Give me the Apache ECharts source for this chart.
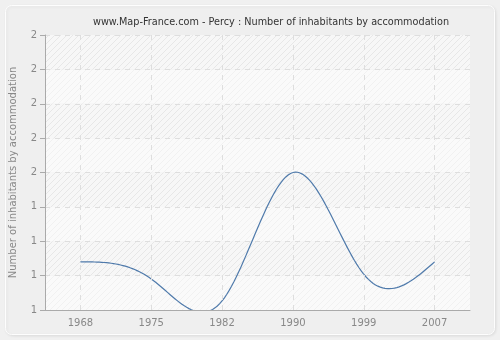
<!DOCTYPE html>
<html><head><meta charset="utf-8">
<script src="https://cdn.jsdelivr.net/npm/echarts@6/dist/echarts.min.js"></script>
<style>html,body{margin:0;padding:0;background:#f0f0f0;}#c{width:500px;height:340px;}</style>
</head><body><div id="c"></div>
<script>
var years = ['1968','1975','1982','1990','1999','2007'];
var values = [1.175, 1.113, 1.033, 1.5, 1.13, 1.175];
var titleText = 'www.Map-France.com - Percy : Number of inhabitants by accommodation';
var yName = 'Number of inhabitants by accommodation';

function hatch(bg, line){
  var c = document.createElement('canvas'); c.width = 6; c.height = 6;
  var x = c.getContext('2d');
  x.fillStyle = bg; x.fillRect(0,0,6,6);
  x.strokeStyle = line; x.lineWidth = 1;
  x.beginPath(); x.moveTo(0,6); x.lineTo(6,0); x.moveTo(-3,3); x.lineTo(3,-3); x.moveTo(3,9); x.lineTo(9,3); x.stroke();
  return c;
}
// natural cubic spline second derivatives for pixel points (x equally spaced)
function splineM(ys){
  var n = ys.length, M = new Array(n).fill(0);
  if (n < 3) return M;
  var c = [], d = [];
  for (var i = 1; i < n-1; i++){
    var r = 6*(ys[i+1]-2*ys[i]+ys[i-1]);
    var denom = 4 - (i > 1 ? c[i-1] : 0);
    c[i] = 1/denom;
    d[i] = (r - (i > 1 ? d[i-1] : 0))/denom;
  }
  for (var j = n-2; j >= 1; j--){ M[j] = d[j] - c[j]*(j < n-2 ? M[j+1] : 0); }
  return M;
}
var chart = echarts.init(document.getElementById('c'));
chart.setOption({
  backgroundColor: '#f0f0f0',
  animation: false,
  graphic: [{type:'rect', shape:{x:5.5,y:5.5,width:489,height:329,r:6}, style:{fill:'#efefef', stroke:'#fdfdfd', lineWidth:1, shadowColor:'rgba(0,0,0,0.08)', shadowBlur:3, shadowOffsetX:1, shadowOffsetY:1}, z:-10}],
  title: {text: titleText, left: 88, top: 12, textStyle:{fontFamily:'DejaVu Sans', fontSize:9.7, fontWeight:'normal', color:'#333'}},
  grid: {left: 40, right: 30, top: 35, bottom: 30},
  xAxis: {type:'category', data: years, boundaryGap: true,
    axisLine:{lineStyle:{color:'#aaa'}},
    axisTick:{alignWithLabel:true, length:5, lineStyle:{color:'#aaa'}},
    axisLabel:{color:'#888', fontFamily:'DejaVu Sans', fontSize:10, margin:8},
    splitLine:{show:false}},
  yAxis: {type:'value', min:1, max:2, interval:0.125, name: yName, nameLocation:'middle', nameGap:27,
    nameTextStyle:{color:'#888', fontFamily:'DejaVu Sans', fontSize:10},
    axisLine:{show:true, lineStyle:{color:'#aaa'}},
    axisTick:{show:true, length:5, lineStyle:{color:'#aaa'}},
    axisLabel:{color:'#888', fontFamily:'DejaVu Sans', fontSize:10, margin:8, formatter:function(v){return Math.round(v);}},
    splitLine:{show:true, lineStyle:{color:'#dedede', type:[5,5]}},
    splitArea:{show:true, areaStyle:{color:[{image:hatch('#fafafa','#f1f1f1'),repeat:'repeat'},{image:hatch('#f7f7f7','#e7e7e7'),repeat:'repeat'}]}}},
  series: [
    {type:'line', data: values, symbol:'none', lineStyle:{opacity:0}, silent:true,
     markLine:{silent:true, symbol:'none', label:{show:false}, lineStyle:{color:'#dedede', type:[5,5], width:1},
      data: years.map(function(y){return {xAxis:y};})}},
    {type:'custom', data: values.map(function(v,i){return [i,v];}), z:3,
     renderItem: function(params, api){
       var i = params.dataIndex;
       if (i >= values.length-1) return null;
       var pts = values.map(function(v,k){return api.coord([k, v]);});
       var ys = pts.map(function(p){return p[1];});
       var M = splineM(ys);
       var x0 = pts[i][0], x1 = pts[i+1][0];
       var out = [];
       for (var s = 0; s <= 30; s++){
         var t = s/30, u = 1-t;
         var y = u*ys[i] + t*ys[i+1] + ((u*u*u-u)*M[i] + (t*t*t-t)*M[i+1])/6;
         out.push([x0 + (x1-x0)*t, y]);
       }
       var cs = params.coordSys;
       return {type:'polyline', shape:{points: out}, style:{stroke:'#4f7aab', lineWidth:1.2, fill:null},
         clipPath:{type:'rect', shape:{x:cs.x, y:cs.y, width:cs.width, height:cs.height}}};
     }}
  ]
});
</script></body></html>
